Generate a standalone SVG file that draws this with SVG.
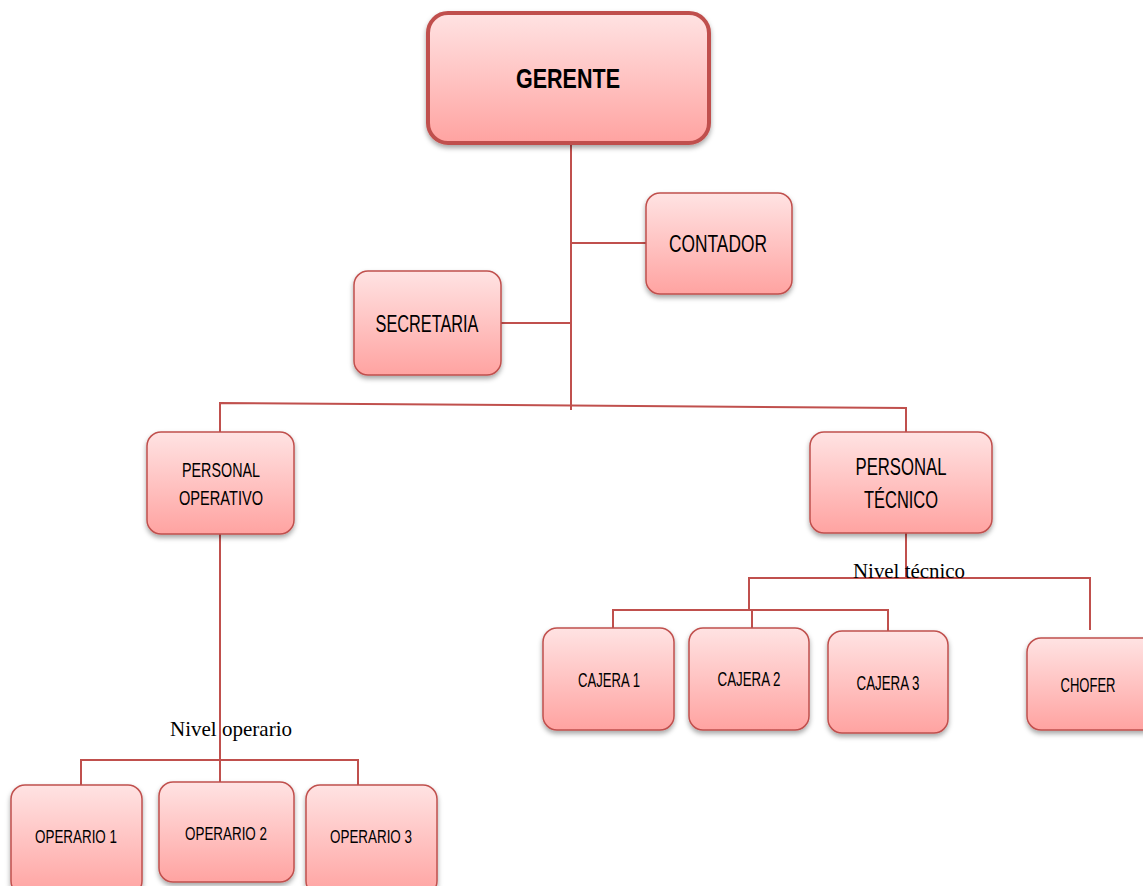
<svg xmlns="http://www.w3.org/2000/svg" width="1143" height="886" viewBox="0 0 1143 886">
<defs>
<linearGradient id="g" x1="0" y1="0" x2="0" y2="1">
<stop offset="0" stop-color="#ffe3e3"/>
<stop offset="1" stop-color="#ffa3a1"/>
</linearGradient>
<filter id="sh" x="-10%" y="-10%" width="120%" height="130%">
<feDropShadow dx="0" dy="3" stdDeviation="2.5" flood-color="#000" flood-opacity="0.35"/>
</filter>
</defs>
<style>
.box{fill:url(#g);stroke:#c0504d;stroke-width:1.5;filter:url(#sh)}
.big{fill:url(#g);stroke:#c0504d;stroke-width:4;filter:url(#sh)}
.t{font-family:"Liberation Sans","Open Sans",sans-serif;fill:#000;text-anchor:middle}
.n{font-family:"Liberation Serif","DejaVu Serif",serif;fill:#000;font-size:22px}
.c{stroke:#c0504d;stroke-width:2;fill:none}
</style>
<rect width="1143" height="886" fill="#fff"/>
<g id="connectors">
<path class="c" d="M571 143 V410"/>
<path class="c" d="M571 243 H646"/>
<path class="c" d="M501 323 H571"/>
<path class="c" d="M220 432 V403 L906 408 V432"/>
<path class="c" d="M220 534 V790"/>
<path class="c" d="M906 533 V578"/>
<path class="c" d="M749 610 V578 H1090 V630"/>
<path class="c" d="M613 636 V610 H888 V640"/>
<path class="c" d="M752 610 V635"/>
<path class="c" d="M81 785 V760 H358 V786"/>
</g>
<g id="gerente"><rect class="big" x="428" y="13" width="281" height="130" rx="20"/><text class="t" x="568" y="88" font-size="28" font-weight="bold" textLength="104" lengthAdjust="spacingAndGlyphs">GERENTE</text></g>
<g id="contador"><rect class="box" x="646" y="193" width="146" height="101" rx="14"/><text class="t" x="718" y="252" font-size="24" textLength="98" lengthAdjust="spacingAndGlyphs">CONTADOR</text></g>
<g id="secretaria"><rect class="box" x="354" y="271" width="147" height="104" rx="14"/><text class="t" x="427" y="332" font-size="24" textLength="103" lengthAdjust="spacingAndGlyphs">SECRETARIA</text></g>
<g id="personal-operativo"><rect class="box" x="147" y="432" width="147" height="102" rx="14"/><text class="t" x="221" y="477" font-size="21" textLength="78" lengthAdjust="spacingAndGlyphs">PERSONAL</text><text class="t" x="221" y="505" font-size="21" textLength="84" lengthAdjust="spacingAndGlyphs">OPERATIVO</text></g>
<g id="personal-tecnico"><rect class="box" x="810" y="432" width="182" height="101" rx="14"/><text class="t" x="901" y="475" font-size="24" textLength="91" lengthAdjust="spacingAndGlyphs">PERSONAL</text><text class="t" x="901" y="508" font-size="24" textLength="74" lengthAdjust="spacingAndGlyphs">TÉCNICO</text></g>
<text class="n" x="853" y="578" textLength="112" lengthAdjust="spacingAndGlyphs">Nivel técnico</text>
<g id="cajera1"><rect class="box" x="543" y="628" width="131" height="102" rx="14"/><text class="t" x="609" y="687" font-size="20" textLength="62" lengthAdjust="spacingAndGlyphs">CAJERA 1</text></g>
<g id="cajera2"><rect class="box" x="689" y="628" width="120" height="102" rx="14"/><text class="t" x="749" y="686" font-size="20" textLength="63" lengthAdjust="spacingAndGlyphs">CAJERA 2</text></g>
<g id="cajera3"><rect class="box" x="828" y="631" width="120" height="102" rx="14"/><text class="t" x="888" y="690" font-size="20" textLength="63" lengthAdjust="spacingAndGlyphs">CAJERA 3</text></g>
<g id="chofer"><rect class="box" x="1027" y="638" width="130" height="92" rx="14"/><text class="t" x="1088" y="692" font-size="20" textLength="55" lengthAdjust="spacingAndGlyphs">CHOFER</text></g>
<text class="n" x="170" y="736" textLength="122" lengthAdjust="spacingAndGlyphs">Nivel operario</text>
<g id="operario1"><rect class="box" x="11" y="785" width="131" height="110" rx="14"/><text class="t" x="76" y="843" font-size="19" textLength="82" lengthAdjust="spacingAndGlyphs">OPERARIO 1</text></g>
<g id="operario2"><rect class="box" x="159" y="782" width="135" height="100" rx="14"/><text class="t" x="226" y="840" font-size="19" textLength="82" lengthAdjust="spacingAndGlyphs">OPERARIO 2</text></g>
<g id="operario3"><rect class="box" x="306" y="785" width="131" height="110" rx="14"/><text class="t" x="371" y="843" font-size="19" textLength="82" lengthAdjust="spacingAndGlyphs">OPERARIO 3</text></g>
</svg>
